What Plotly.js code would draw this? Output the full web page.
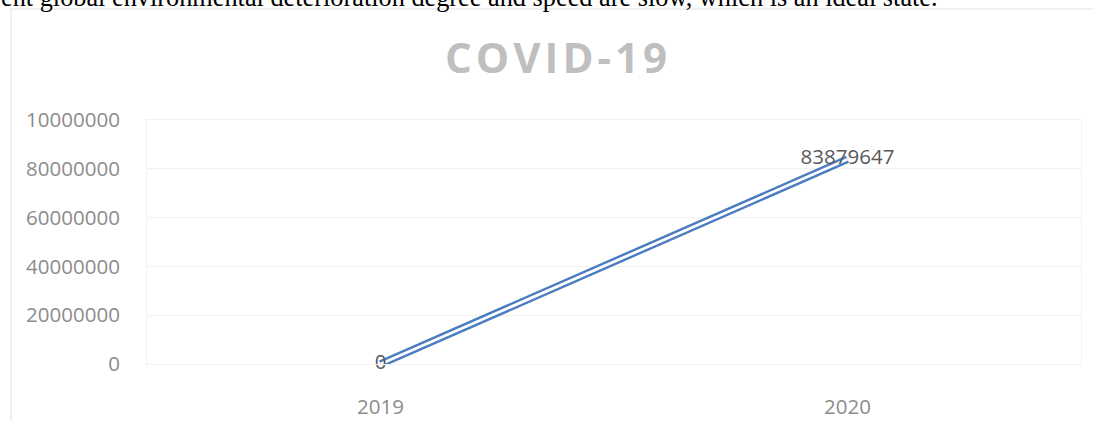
<!DOCTYPE html>
<html>
<head>
<meta charset="utf-8">
<script src="https://cdn.plot.ly/plotly-3.0.1.min.js"></script>
<style>
html,body{margin:0;padding:0;background:#fff;}
#chart{width:1093px;height:421px;}
.gtitle{letter-spacing:4px;}
</style>
</head>
<body>
<div id="chart"></div>
<script>
// Data
const years = ['2019', '2020'];
const cases = [0, 83879647];
const caseLabels = ['0', '83879647'];
const yTickVals = [0, 20000000, 40000000, 60000000, 80000000, 100000000];
const yTickText = ['0', '20000000', '40000000', '60000000', '80000000', '10000000'];
const titleText = 'COVID-19';
const captionText = 'ent global environmental deterioration degree and speed are slow, which is an ideal state.';

const W = 1093, H = 421;
const L = 147, R = 12, T = 120, B = 57;
const pw = W - L - R, ph = H - T - B;
const px = x => (x - L) / pw;
const py = y => 1 - (y - T) / ph;

const traces = [
  { x: years, y: cases, mode: 'lines', line: { color: '#4a7cc0', width: 7.6 }, hoverinfo: 'skip', showlegend: false, cliponaxis: false },
  { x: years, y: cases, mode: 'lines', line: { color: '#ffffff', width: 2.8 }, hoverinfo: 'skip', showlegend: false, cliponaxis: false },
  { x: years, y: cases, mode: 'text', text: caseLabels, textposition: 'middle center',
    textfont: { family: 'Open Sans', size: 20.5, color: '#595959' }, hoverinfo: 'skip', showlegend: false, cliponaxis: false }
];

const layout = {
  width: W, height: H,
  margin: { l: L, r: R, t: T, b: B, pad: 0 },
  paper_bgcolor: '#ffffff', plot_bgcolor: '#ffffff',
  showlegend: false,
  title: { text: titleText, font: { family: 'Open Sans', size: 42, color: '#bfbfbf', weight: 'bold' },
           x: px(558), xanchor: 'center', xref: 'paper', y: 1 - 58 / H, yanchor: 'middle', yref: 'container' },
  xaxis: {
    type: 'category', range: [-0.5, 1.5], fixedrange: true,
    showgrid: false, zeroline: false, showline: true, mirror: true, linecolor: '#f2f2f2', linewidth: 1,
    ticks: '', ticklabelstandoff: 24,
    tickfont: { family: 'Open Sans', size: 20.5, color: '#8c8c8c' }
  },
  yaxis: {
    range: [0, 100000000], fixedrange: true,
    tickvals: yTickVals, ticktext: yTickText,
    showgrid: true, gridcolor: '#f2f2f2', gridwidth: 1, zeroline: false,
    showline: true, mirror: true, linecolor: '#f2f2f2', linewidth: 1,
    ticks: '', ticklabelstandoff: 22,
    tickfont: { family: 'Open Sans', size: 20.5, color: '#8c8c8c' }
  },
  shapes: [
    { type: 'rect', xref: 'paper', yref: 'paper', x0: px(11), x1: px(1110), y0: py(9), y1: py(440),
      line: { color: '#ececec', width: 1.5 }, fillcolor: 'rgba(0,0,0,0)', layer: 'below' }
  ],
  annotations: [
    { text: captionText, xref: 'paper', yref: 'paper', x: px(0), y: py(13), xanchor: 'left', yanchor: 'bottom',
      showarrow: false, font: { family: 'Liberation Serif', size: 26.3, color: '#000000' }, borderpad: 0 }
  ]
};

Plotly.newPlot('chart', traces, layout, { staticPlot: true, displayModeBar: false });
</script>
</body>
</html>
